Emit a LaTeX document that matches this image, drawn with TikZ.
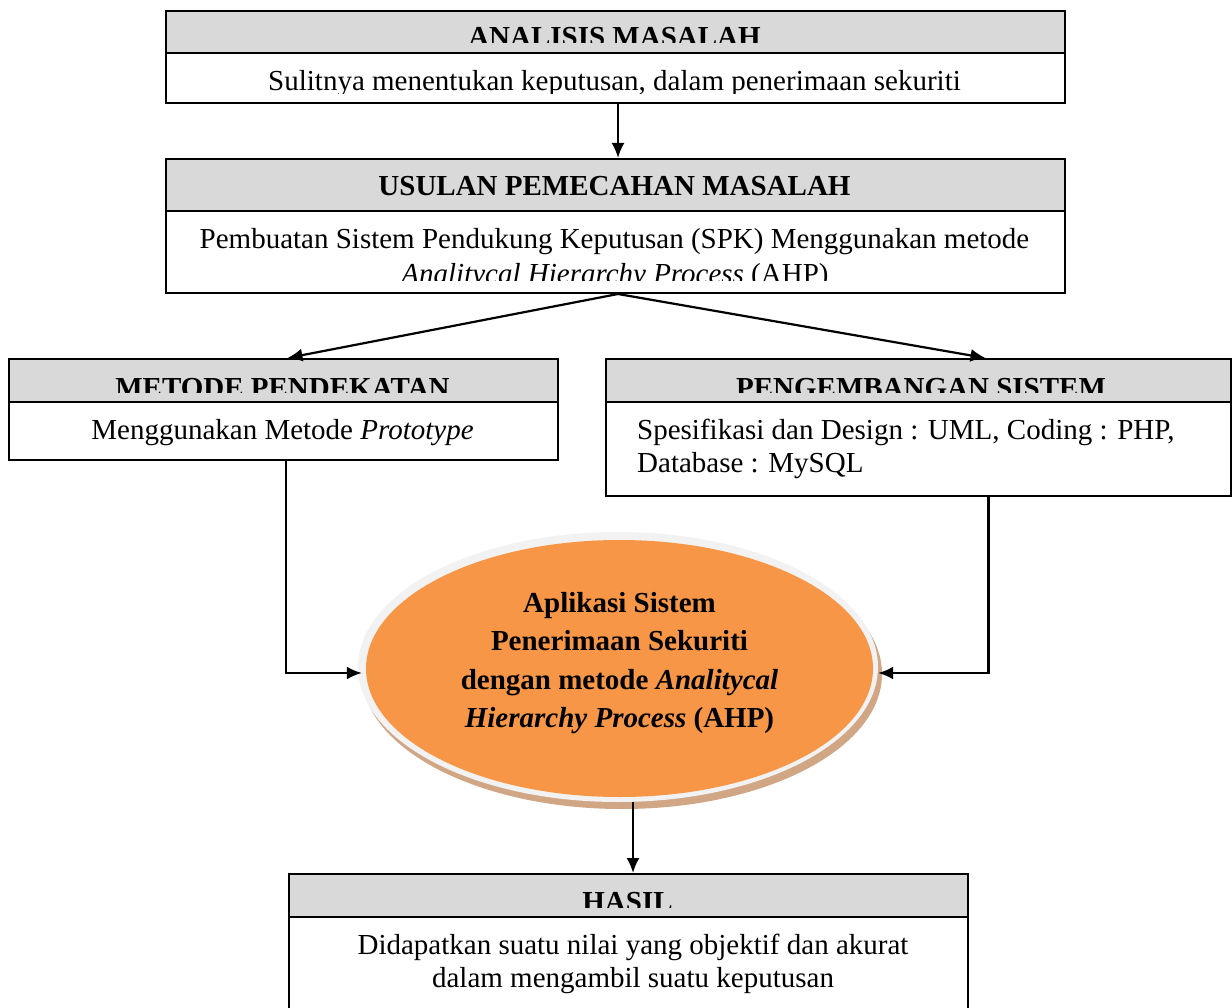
\documentclass[tikz,border=0pt]{standalone}
\usepackage{fontspec}
\setmainfont{Liberation Serif}
\usetikzlibrary{arrows.meta,shapes.geometric,calc}
\definecolor{bandgray}{HTML}{D9D9D9}
\definecolor{orangefill}{HTML}{F79646}
\definecolor{ringgray}{HTML}{F2F2F2}
\definecolor{shadowtan}{RGB}{208,166,132}
\begin{document}
\begin{tikzpicture}[x=1pt,y=-1pt,
  boxframe/.style={draw=black, line width=2pt, rectangle, inner sep=0pt, anchor=north west},
  bandbox/.style={boxframe, fill=bandgray},
  txt/.style={font=\fontsize{29}{33}\selectfont, inner sep=0pt, anchor=base},
  ttl/.style={font=\fontsize{29}{33}\selectfont\bfseries, inner sep=0pt, anchor=base},
  arr/.style={line width=2.2pt, -{Latex[length=15pt,width=13pt]}}
]
\useasboundingbox (0,0) rectangle (1232,1008);

% ---- boxes ----
\node[bandbox, minimum width=899pt, minimum height=42pt] (b1t) at (165,10) {};
\node[boxframe, minimum width=899pt, minimum height=92pt] (b1) at (165,10) {};

\node[bandbox, minimum width=899pt, minimum height=52pt] (b2t) at (165,158) {};
\node[boxframe, minimum width=899pt, minimum height=134pt] (b2) at (165,158) {};

\node[bandbox, minimum width=549pt, minimum height=43pt] (b3t) at (8,358) {};
\node[boxframe, minimum width=549pt, minimum height=101pt] (b3) at (8,358) {};

\node[bandbox, minimum width=625pt, minimum height=43pt] (b4t) at (605,358) {};
\node[boxframe, minimum width=625pt, minimum height=137pt] (b4) at (605,358) {};

\node[bandbox, minimum width=679pt, minimum height=43pt] (b5t) at (288,873) {};
\node[boxframe, minimum width=679pt, minimum height=145pt] (b5) at (288,873) {};

% ---- ellipse ----
\fill[shadowtan] (622,674) ellipse [x radius=260pt, y radius=135pt];
\node[ellipse, fill=ringgray, minimum width=520pt, minimum height=270pt, inner sep=0pt] (ell) at (618,667) {};
\fill[orangefill] (619.5,668.5) ellipse [x radius=253.5pt, y radius=128.5pt];

% ---- texts ----
\begin{scope}
\clip (166,11) rectangle (1063,43);
\node[ttl] (t1) at (614.5,47) {ANALISIS MASALAH};
\end{scope}
\begin{scope}
\clip (166,53) rectangle (1063,94);
\node[txt] (x1) at (614.5,91) {Sulitnya menentukan keputusan, dalam penerimaan sekuriti};
\end{scope}

\node[ttl] (t2) at (614.5,195.5) {USULAN PEMECAHAN MASALAH};
\node[txt] (x2a) at (614.5,249) {Pembuatan Sistem Pendukung Keputusan (SPK) Menggunakan metode};
\begin{scope}
\clip (166,211) rectangle (1063,281);
\node[txt] (x2b) at (615,284) {\textit{Analitycal Hierarchy Process} (AHP)};
\end{scope}

\begin{scope}
\clip (9,359) rectangle (556,392);
\node[ttl] (t3) at (282.5,397) {METODE PENDEKATAN};
\end{scope}
\node[txt] (x3) at (282.5,439) {Menggunakan Metode \textit{Prototype}};

\begin{scope}
\clip (606,359) rectangle (1229,392);
\node[ttl] (t4) at (921,397) {PENGEMBANGAN SISTEM};
\end{scope}
\node[txt, anchor=base west] (x4a) at (637,439) {Spesifikasi dan Design : UML, Coding : PHP,};
\node[txt, anchor=base west] (x4b) at (637,472) {Database : MySQL};

\begin{scope}
\clip (289,874) rectangle (966,907);
\node[ttl] (t5) at (627.5,911) {HASIL};
\end{scope}
\node[txt] (x5a) at (633,954) {Didapatkan suatu nilai yang objektif dan akurat};
\node[txt] (x5b) at (633,987) {dalam mengambil suatu keputusan};

\node[ttl] (e1) at (619.5,612) {Aplikasi Sistem};
\node[ttl] (e2) at (619.5,650) {Penerimaan Sekuriti};
\node[ttl] (e3) at (619.5,689) {dengan metode \textit{Analitycal}};
\node[ttl] (e4) at (619.5,727) {\textit{Hierarchy Process} (AHP)};

% ---- connectors ----
\draw[arr] ([xshift=2.5pt]b1.south) -- ([xshift=2.5pt]b2.north);
\draw[arr] ([xshift=2.5pt]b2.south) -- ([xshift=4pt]b3.north);
\draw[arr] ([xshift=2.5pt]b2.south) -- ([xshift=67pt]b4.north);
\draw[arr] ([xshift=2.5pt]b3.south) |- ($(ell.west)+(4,6)$);
\draw[arr] ([xshift=70pt]b4.south) |- ($(ell.east)+(0,6)$);
\draw[arr] ($(ell.south -| b5.north)+(4.5,0)$) -- ($(b5.north)+(4.5,0)$);
\end{tikzpicture}
\end{document}
